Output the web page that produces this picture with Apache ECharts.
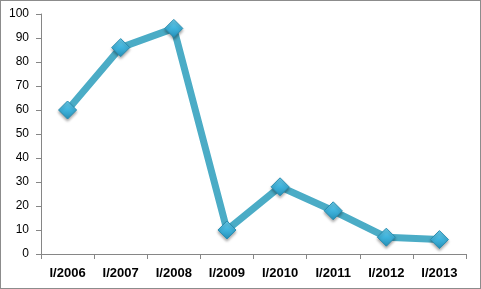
<!DOCTYPE html>
<html>
<head>
<meta charset="utf-8">
<script src="https://cdn.jsdelivr.net/npm/echarts@6/dist/echarts.min.js"></script>
<style>
html,body{margin:0;padding:0;background:#fff;}
#wrap{position:absolute;left:0;top:0;width:479px;height:287px;border:1px solid #8c8c8c;}
#c{position:absolute;left:-1px;top:-1px;width:481px;height:289px;}
</style>
</head>
<body>
<div id="wrap"><div id="c"></div></div>
<script>
var categories = ['I/2006','I/2007','I/2008','I/2009','I/2010','I/2011','I/2012','I/2013'];
var values = [60, 86, 94, 10, 28, 18, 7, 6];

var chart = echarts.init(document.getElementById('c'));
chart.setOption({
  animation: false,
  backgroundColor: 'transparent',
  grid: {left: 41, right: 15, top: 14, bottom: 35, containLabel: false},
  xAxis: {
    type: 'category',
    data: categories,
    boundaryGap: true,
    axisLine: {lineStyle: {color: '#868686', width: 1}},
    axisTick: {show: true, length: 5, lineStyle: {color: '#868686'}, alignWithLabel: false},
    axisLabel: {color: '#000', fontFamily: 'Liberation Sans', fontWeight: 'bold', fontSize: 13, margin: 13, interval: 0}
  },
  yAxis: {
    type: 'value',
    min: 0, max: 100, interval: 10,
    splitLine: {show: false},
    axisLine: {show: true, lineStyle: {color: '#868686', width: 1}},
    axisTick: {show: true, length: 5, lineStyle: {color: '#868686'}},
    axisLabel: {color: '#000', fontFamily: 'Liberation Sans', fontSize: 12, margin: 12}
  },
  series: [{
    type: 'line',
    data: values,
    symbol: 'diamond',
    symbolSize: 18,
    lineStyle: {color: '#4BACC6', width: 7},
    itemStyle: {
      color: new echarts.graphic.LinearGradient(0, 0, 0, 1, [
        {offset: 0, color: '#6fd0ee'},
        {offset: 0.5, color: '#3fb3dc'},
        {offset: 1, color: '#2590b8'}
      ]),
      borderColor: '#2a8db0',
      borderWidth: 1,
      shadowColor: 'rgba(0,0,0,0.35)',
      shadowBlur: 3,
      shadowOffsetY: 2
    },
    z: 3
  }]
});
</script>
</body>
</html>
